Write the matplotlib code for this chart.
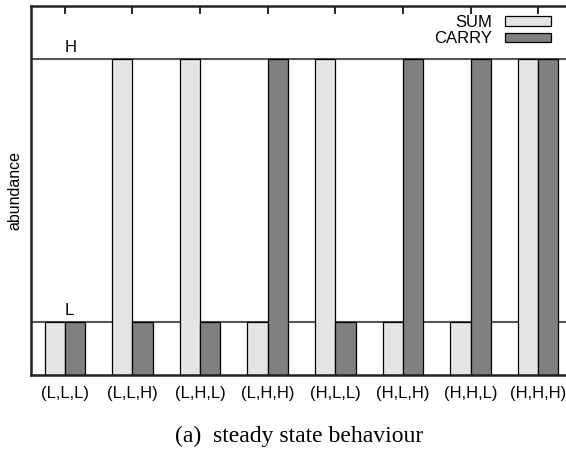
import matplotlib
matplotlib.use("Agg")
import matplotlib.pyplot as plt
import numpy as np

# input combinations and steady state outputs of the adder
states = ['(L,L,L)', '(L,L,H)', '(L,H,L)', '(L,H,H)',
          '(H,L,L)', '(H,L,H)', '(H,H,L)', '(H,H,H)']
sum_out = ['L', 'H', 'H', 'L', 'H', 'L', 'L', 'H']
carry_out = ['L', 'L', 'L', 'H', 'L', 'H', 'H', 'H']
level = {'L': 1, 'H': 6}

sum_vals = [level[s] for s in sum_out]
carry_vals = [level[c] for c in carry_out]

fig = plt.figure(figsize=(5.66, 4.49), dpi=100)
ax = fig.add_axes([31 / 566, 74 / 449, 541 / 566, 369 / 449])

x = np.arange(len(states))
w = 0.3

# reference lines for the two levels
for lv in level.values():
    ax.axhline(lv, color='#555555', lw=1.5, zorder=1)

ax.bar(x - w / 2, sum_vals, w, color='#e5e5e5', edgecolor='black',
       linewidth=0.9, zorder=2, label='SUM')
ax.bar(x + w / 2, carry_vals, w, color='#808080', edgecolor='black',
       linewidth=0.9, zorder=2, label='CARRY')

ax.set_xlim(-0.5, 7.5)
ax.set_ylim(0, 7)
ax.set_yticks([])
ax.set_xticks(x)
ax.set_xticklabels(states, fontsize=12, family='Liberation Sans')
ax.tick_params(axis='x', which='both', bottom=False, top=True, direction='in',
               length=6, width=1.2, pad=8, labelbottom=True)

for name, lv in level.items():
    ax.annotate(name, (0, lv), xytext=(0, 3), textcoords='offset points',
                ha='left', va='bottom', fontsize=12, family='Liberation Sans')

ax.set_ylabel('abundance', fontsize=11.5, family='Liberation Sans', labelpad=6)

for side in ['left', 'top', 'bottom']:
    ax.spines[side].set_linewidth(1.8)
    ax.spines[side].set_color('#222222')
ax.spines['right'].set_visible(False)

leg = ax.legend(loc='upper right', bbox_to_anchor=(551 / 566, 1 - 15 / 449),
                bbox_transform=fig.transFigure,
                frameon=False, markerfirst=False, handlelength=2.75, handleheight=0.48,
                handletextpad=0.78, labelspacing=0.08, borderaxespad=0, borderpad=0,
                prop={'family': 'Liberation Sans', 'size': 12})
for t in leg.get_texts():
    t.set_ha('right')

fig.text(299 / 566, 1 - 436 / 449, '(a)  steady state behaviour',
         ha='center', va='center', fontsize=17, family='Liberation Serif')

fig.savefig('out.png', dpi=100)
